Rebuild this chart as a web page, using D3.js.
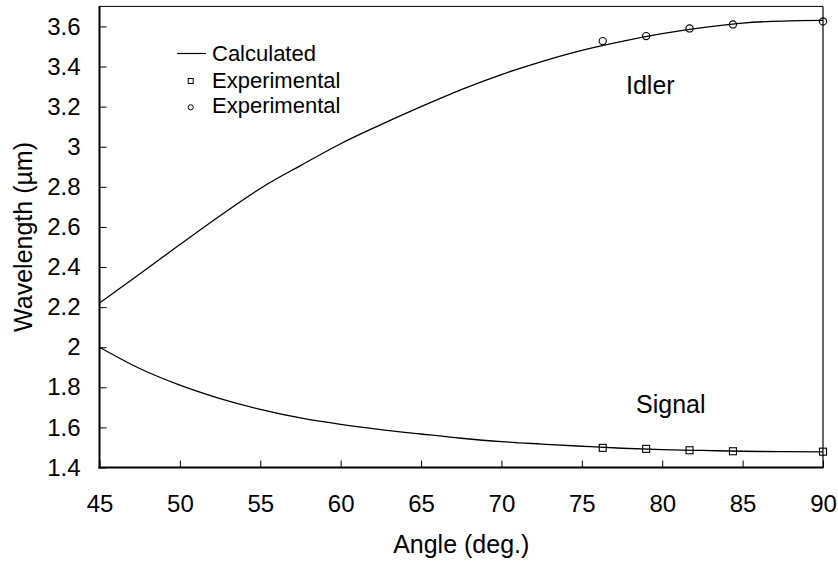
<!DOCTYPE html>
<html>
<head>
<meta charset="utf-8">
<script src="https://cdn.jsdelivr.net/npm/d3@7/dist/d3.min.js"></script>
<style>
  html, body { margin: 0; padding: 0; background: #fff; }
  svg { display: block; font-family: "Liberation Sans", Arial, sans-serif; }
</style>
</head>
<body>
<svg id="chart" width="838" height="562"></svg>
<script>
// ---- data ----
const angles = [45, 47.5, 50, 52.5, 55, 57.5, 60, 62.5, 65, 67.5, 70, 72.5, 75, 77.5, 80, 82.5, 85, 87.5, 90];
const idlerCalc = [2.22, 2.365, 2.512, 2.656, 2.792, 2.906, 3.015, 3.110, 3.200, 3.285, 3.360, 3.425, 3.481, 3.526, 3.564, 3.594, 3.617, 3.627, 3.630];
const signalCalc = [2.0, 1.894, 1.811, 1.744, 1.690, 1.647, 1.615, 1.589, 1.567, 1.546, 1.529, 1.517, 1.506, 1.496, 1.489, 1.485, 1.481, 1.479, 1.478];
const expAngles = [76.3, 79.0, 81.7, 84.4, 90.0];
const signalExp = [1.498, 1.493, 1.486, 1.481, 1.479];
const idlerExp = [3.527, 3.552, 3.590, 3.610, 3.625];
const xTicks = [45, 50, 55, 60, 65, 70, 75, 80, 85, 90];
const yTicks = [1.4, 1.6, 1.8, 2.0, 2.2, 2.4, 2.6, 2.8, 3.0, 3.2, 3.4, 3.6];
const legendLabels = ["Calculated", "Experimental", "Experimental"];
const curveLabels = ["Idler", "Signal"];
const xTitle = "Angle (deg.)";
const yTitle = "Wavelength (\u00b5m)";

// ---- layout ----
const L = 99.5, R = 823, T = 6.4, B = 467.5;
const svg = d3.select("#chart");
const x = d3.scaleLinear().domain([45, 90]).range([L, R]);
const y = d3.scaleLinear().domain([1.4, 3.7]).range([B, T]);

// axes
const xAxis = d3.axisBottom(x).tickValues(xTicks).tickSizeInner(-7).tickSizeOuter(0).tickPadding(27)
  .tickFormat(d => String(d));
const yAxis = d3.axisLeft(y).tickValues(yTicks).tickSizeInner(-7).tickSizeOuter(0).tickPadding(19)
  .tickFormat(d => String(+d.toFixed(1)));

const gx = svg.append("g").attr("transform", `translate(0,${B})`).call(xAxis);
const gy = svg.append("g").attr("transform", `translate(${L},0)`).call(yAxis);
[gx, gy].forEach(g => {
  g.select(".domain").remove();
  g.selectAll(".tick line").attr("stroke", "#000").attr("stroke-width", 1);
  g.selectAll(".tick text").attr("fill", "#000").style("font-size", "24px")
    .style("font-family", "'Liberation Sans', Arial, sans-serif");
});

// frame
svg.append("line").attr("x1", L).attr("x2", R).attr("y1", T).attr("y2", T).attr("stroke", "#000").attr("stroke-width", 1);
svg.append("line").attr("x1", R).attr("x2", R).attr("y1", T).attr("y2", B).attr("stroke", "#000").attr("stroke-width", 1.2);
svg.append("line").attr("x1", L).attr("x2", L).attr("y1", T - 0.5).attr("y2", B + 1).attr("stroke", "#000").attr("stroke-width", 2);
svg.append("line").attr("x1", L - 1).attr("x2", R + 0.5).attr("y1", B).attr("y2", B).attr("stroke", "#000").attr("stroke-width", 2);

// calculated curves
const line = d3.line().x((d, i) => x(angles[i])).y(d => y(d)).curve(d3.curveMonotoneX);
[idlerCalc, signalCalc].forEach(s => {
  svg.append("path").attr("d", line(s)).attr("fill", "none").attr("stroke", "#000").attr("stroke-width", 1.3);
});

// experimental points
const sq = 7;
svg.append("g").selectAll("rect").data(signalExp).join("rect")
  .attr("x", (d, i) => x(expAngles[i]) - sq / 2).attr("y", d => y(d) - sq / 2)
  .attr("width", sq).attr("height", sq).attr("fill", "none").attr("stroke", "#000").attr("stroke-width", 1.1);
svg.append("g").selectAll("circle").data(idlerExp).join("circle")
  .attr("cx", (d, i) => x(expAngles[i])).attr("cy", d => y(d)).attr("r", 3.6)
  .attr("fill", "none").attr("stroke", "#000").attr("stroke-width", 1.1);

// curve labels
svg.append("text").attr("x", 626).attr("y", 94).style("font-size", "25px").text(curveLabels[0]);
svg.append("text").attr("x", 636).attr("y", 413).style("font-size", "25px").text(curveLabels[1]);

// legend
const lg = svg.append("g").style("font-size", "22px");
lg.append("line").attr("x1", 177).attr("x2", 206).attr("y1", 53.5).attr("y2", 53.5).attr("stroke", "#000").attr("stroke-width", 1.2);
lg.append("rect").attr("x", 190.7 - 2.5).attr("y", 81 - 2.5).attr("width", 5).attr("height", 5)
  .attr("fill", "none").attr("stroke", "#000").attr("stroke-width", 1);
lg.append("circle").attr("cx", 190.7).attr("cy", 107.3).attr("r", 2.6)
  .attr("fill", "none").attr("stroke", "#000").attr("stroke-width", 1);
lg.append("text").attr("x", 212).attr("y", 61).text(legendLabels[0]);
lg.append("text").attr("x", 212).attr("y", 88.3).text(legendLabels[1]);
lg.append("text").attr("x", 212).attr("y", 113.3).text(legendLabels[2]);

// axis titles
svg.append("text").attr("x", (L + R) / 2).attr("y", 553).attr("text-anchor", "middle")
  .style("font-size", "25px").text(xTitle);
svg.append("text").attr("transform", `translate(32,${(T + B) / 2}) rotate(-90)`).attr("text-anchor", "middle")
  .style("font-size", "25px").text(yTitle);
</script>
</body>
</html>
